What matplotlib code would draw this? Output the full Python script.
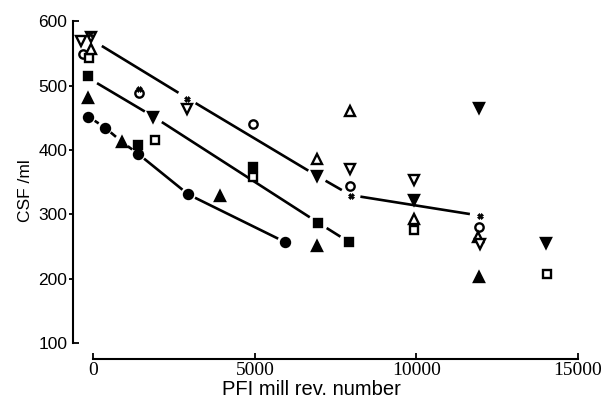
import numpy as np
import matplotlib
matplotlib.use("agg")
import matplotlib.pyplot as plt

# CSF values read per symbol (PFI revolutions, CSF/ml)
open_circle_x = [-330, 1400, 4930, 7950, 11950]
open_circle_y = [549, 488, 441, 344, 280]
filled_circle_x = [-150, 360, 1390, 2940, 5930]
filled_circle_y = [452, 435, 394, 331, 257]
open_square_x = [-120, 1910, 4950, 9930, 14030]
open_square_y = [543, 415, 358, 276, 207]
filled_square_x = [-150, 1390, 4950, 6960, 7910]
filled_square_y = [515, 408, 373, 286, 257]
open_up_x = [-80, 6910, 7940, 9930, 11900]
open_up_y = [557, 386, 461, 292, 264]
filled_up_x = [-150, 880, 3920, 6910, 11950]
filled_up_y = [481, 413, 328, 251, 203]
open_down_x = [-390, -60, 2910, 7940, 9930, 11980]
open_down_y = [569, 576, 464, 371, 354, 254]
filled_down_x = [1860, 6920, 9930, 11930, 14000]
filled_down_y = [452, 359, 322, 465, 256]
cross_x = [-100, 1400, 2900, 7960, 11960]
cross_y = [580, 495, 480, 329, 298]

# hand-drawn trend lines through selected points
trend_top_x = [0, 2900, 6920, 7960, 11960]
trend_top_y = [570, 481, 360, 330, 298]
trend_mid_x = [-150, 1860, 6960, 7910]
trend_mid_y = [512, 452, 287, 257]
trend_low_x = [-150, 360, 880, 1390, 2940, 5930]
trend_low_y = [452, 435, 413, 394, 331, 257]

fig = plt.figure(figsize=(6.07, 4.03), dpi=100)
ax = fig.add_axes([0.1198, 0.1092, 0.8324, 0.8375])
ax.set_xlim(-637, 15000)
ax.set_ylim(75, 600)


def broken_line(xs, ys, gap=8.0, lw=1.9):
    # draw segments between nodes, leaving a gap around every node
    pts = ax.transData.transform(np.column_stack([xs, ys]))
    inv = ax.transData.inverted()
    for p0, p1 in zip(pts[:-1], pts[1:]):
        d = p1 - p0
        n = np.hypot(*d)
        if n <= 2 * gap:
            continue
        u = d / n
        a = inv.transform(p0 + u * gap)
        b = inv.transform(p1 - u * gap)
        ax.plot([a[0], b[0]], [a[1], b[1]], color="black", lw=lw,
                solid_capstyle="butt", zorder=2)


broken_line(trend_top_x, trend_top_y, gap=10)
broken_line(trend_mid_x, trend_mid_y, gap=10)
broken_line(trend_low_x, trend_low_y, gap=7.5)

mk = dict(linestyle="none", color="black", markeredgewidth=1.7, zorder=3)
ax.plot(open_circle_x, open_circle_y, marker="o", ms=6, mfc="white", **mk)
ax.plot(filled_circle_x, filled_circle_y, marker="o", ms=6.5, mfc="black", **mk)
ax.plot(open_square_x, open_square_y, marker="s", ms=5.5, mfc="white", **mk)
ax.plot(filled_square_x, filled_square_y, marker="s", ms=6, mfc="black", **mk)
ax.plot(open_up_x, open_up_y, marker="^", ms=7, mfc="white", **mk)
ax.plot(filled_up_x, filled_up_y, marker="^", ms=7.5, mfc="black", **mk)
ax.plot(open_down_x, open_down_y, marker="v", ms=7, mfc="white", **mk)
ax.plot(filled_down_x, filled_down_y, marker="v", ms=7.5, mfc="black", **mk)
ax.plot(cross_x, cross_y, marker="X", ms=4, mfc="black", linestyle="none",
        color="black", markeredgewidth=0.5, zorder=4)

# detached axes: spines only over the labelled ranges
for side in ["top", "right"]:
    ax.spines[side].set_visible(False)
ax.spines["left"].set_bounds(100, 600)
ax.spines["bottom"].set_bounds(0, 15000)
ax.spines["left"].set_linewidth(1.5)
ax.spines["bottom"].set_linewidth(1.5)

ax.set_yticks([200, 300, 400, 500])
ax.set_yticks([100, 600], minor=True)
ax.set_yticklabels(["200", "300", "400", "500"])
ax.set_yticklabels(["100", "600"], minor=True)
ax.tick_params(axis="y", which="major", direction="out", length=3, width=1.3,
               pad=1, labelsize=12.5)
ax.tick_params(axis="y", which="minor", direction="in", length=4, width=1.3,
               pad=4, labelsize=12.5)
for lab in ax.get_yticklabels(which="both"):
    lab.set_fontfamily("Liberation Sans")

ax.set_xticks([0, 5000, 10000, 15000])
ax.set_xticklabels(["0", "5000", "10000", "15000"])
ax.tick_params(axis="x", direction="in", length=4, width=1.3, pad=2,
               labelsize=14)
for lab in ax.get_xticklabels():
    lab.set_fontfamily("Liberation Serif")

ax.set_xlabel("PFI mill rev. number", fontsize=14.5,
              fontfamily="Liberation Sans")
ax.xaxis.set_label_coords(0.472, -0.062)
ax.set_ylabel("CSF /ml", fontsize=12.5, fontfamily="Liberation Sans",
              labelpad=4)

fig.savefig("out.png", dpi=100)
